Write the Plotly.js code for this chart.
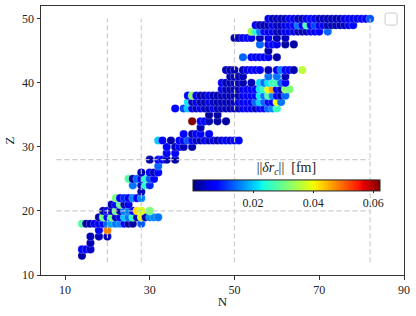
<!DOCTYPE html>
<html><head><meta charset="utf-8">
<script src="https://cdn.plot.ly/plotly-3.0.1.min.js"></script>
<style>html,body{margin:0;padding:0;background:#fff}#plot{width:416px;height:316px}</style>
</head><body><div id="plot"></div>
<script>
// ---- data: one entry per nucleus (neutron number N, proton number Z, |delta r_c| in fm)
const N = [
 14,
 14,15,16,
 16,
 16,18,20,
 18,20,
 14,15,16,17,18,19,20,21,22,23,24,25,26,28,
 18,19,20,21,22,23,24,25,26,27,28,29,30,31,32,
 19,20,21,22,23,24,25,26,27,28,30,
 21,22,23,24,25,
 22,23,24,25,26,27,28,
 28,
 26,28,29,30,
 25,26,27,28,29,30,31,
 28,30,31,32,
 32,
 30,32,33,34,36,
 34,36,
 34,36,37,38,40,
 32,33,35,37,38,39,40,41,42,43,44,45,46,47,48,49,50,51,
 38,40,41,42,44,
 42,
 40,42,43,44,46,48,
 44,46,
 36,38,39,40,41,42,43,44,45,46,47,48,49,50,51,52,53,54,55,56,57,58,59,60,
 39,40,41,42,43,44,45,46,47,48,49,50,51,52,53,54,55,56,57,58,59,60,61,
 39,40,41,42,43,44,45,46,47,48,49,50,51,52,53,54,55,56,57,58,59,60,61,62,
 47,48,49,50,51,52,53,54,55,56,57,58,59,60,61,62,63,
 47,48,49,50,51,52,54,56,57,58,59,60,61,62,
 49,50,51,52,58,60,62,
 48,49,50,52,53,54,55,56,58,60,61,62,63,64,66,
 52,54,55,56,57,58,60,
 58,
 56,58,59,60,62,64,
 50,51,52,53,54,56,58,60,62,
 54,55,56,57,58,59,60,61,62,63,64,65,66,67,68,69,70,72,
 55,56,57,58,59,60,61,62,63,64,65,66,67,68,69,70,71,72,73,74,75,76,77,78,
 58,59,60,61,62,63,64,65,66,67,68,69,70,71,72,73,74,75,76,77,78,79,80,81,82
];
const Z = [
 13,
 14,14,14,
 15,
 16,16,16,
 17,17,
 18,18,18,18,18,18,18,18,18,18,18,18,18,18,
 19,19,19,19,19,19,19,19,19,19,19,19,19,19,19,
 20,20,20,20,20,20,20,20,20,20,20,
 21,21,21,21,21,
 22,22,22,22,22,22,22,
 23,
 24,24,24,24,
 25,25,25,25,25,25,25,
 26,26,26,26,
 27,
 28,28,28,28,28,
 29,29,
 30,30,30,30,30,
 31,31,31,31,31,31,31,31,31,31,31,31,31,31,31,31,31,31,
 32,32,32,32,32,
 33,
 34,34,34,34,34,34,
 35,35,
 36,36,36,36,36,36,36,36,36,36,36,36,36,36,36,36,36,36,36,36,36,36,36,36,
 37,37,37,37,37,37,37,37,37,37,37,37,37,37,37,37,37,37,37,37,37,37,37,
 38,38,38,38,38,38,38,38,38,38,38,38,38,38,38,38,38,38,38,38,38,38,38,38,
 39,39,39,39,39,39,39,39,39,39,39,39,39,39,39,39,39,
 40,40,40,40,40,40,40,40,40,40,40,40,40,40,
 41,41,41,41,41,41,41,
 42,42,42,42,42,42,42,42,42,42,42,42,42,42,42,
 44,44,44,44,44,44,44,
 45,
 46,46,46,46,46,46,
 47,47,47,47,47,47,47,47,47,
 48,48,48,48,48,48,48,48,48,48,48,48,48,48,48,48,48,48,
 49,49,49,49,49,49,49,49,49,49,49,49,49,49,49,49,49,49,49,49,49,49,49,49,
 50,50,50,50,50,50,50,50,50,50,50,50,50,50,50,50,50,50,50,50,50,50,50,50,50
];
const dr = [
 0.002,
 0.008,0.008,0.004,
 0.003,
 0.003,0.003,0.003,
 0.007,0.048,
 0.028,0.002,0.003,0.006,0.006,0.008,0.014,0.018,0.015,0.016,0.008,0.002,0.002,0.013,
 0.002,0.030,0.007,0.030,0.003,0.006,0.020,0.015,0.025,0.003,0.039,0.002,0.016,0.016,0.015,
 0.002,0.006,0.003,0.030,0.002,0.015,0.016,0.006,0.042,0.038,0.031,
 0.003,0.007,0.030,0.003,0.006,
 0.031,0.007,0.010,0.007,0.016,0.007,0.016,
 0.003,
 0.015,0.003,0.025,0.010,
 0.028,0.002,0.014,0.006,0.025,0.013,0.008,
 0.003,0.007,0.003,0.008,
 0.014,
 0.002,0.008,0.008,0.003,0.002,
 0.007,0.007,
 0.007,0.003,0.007,0.003,0.003,
 0.020,0.007,0.002,0.007,0.008,0.013,0.007,0.004,0.003,0.006,0.003,0.005,0.003,0.005,0.006,0.005,0.008,0.008,
 0.008,0.003,0.007,0.007,0.007,
 0.003,
 0.062,0.008,0.007,0.003,0.002,0.002,
 0.002,0.002,
 0.008,0.012,0.020,0.006,0.003,0.006,0.003,0.003,0.006,0.003,0.003,0.003,0.003,0.003,0.003,0.006,0.006,0.006,0.003,0.007,0.008,0.014,0.016,0.026,
 0.022,0.003,0.006,0.003,0.003,0.006,0.003,0.003,0.003,0.003,0.003,0.003,0.006,0.006,0.007,0.006,0.014,0.020,0.014,0.008,0.007,0.040,0.015,
 0.008,0.032,0.006,0.003,0.003,0.006,0.003,0.003,0.003,0.003,0.003,0.003,0.003,0.006,0.006,0.007,0.007,0.022,0.015,0.028,0.016,0.007,0.003,0.014,
 0.006,0.003,0.003,0.003,0.003,0.006,0.006,0.007,0.008,0.022,0.026,0.040,0.046,0.007,0.003,0.032,0.031,
 0.007,0.003,0.003,0.003,0.003,0.003,0.003,0.021,0.015,0.022,0.026,0.027,0.014,0.008,
 0.003,0.003,0.003,0.003,0.015,0.015,0.003,
 0.003,0.003,0.003,0.003,0.006,0.007,0.007,0.007,0.003,0.007,0.015,0.007,0.007,0.003,0.036,
 0.014,0.007,0.007,0.006,0.007,0.006,0.002,
 0.002,
 0.014,0.007,0.007,0.006,0.002,0.002,
 0.003,0.003,0.006,0.008,0.006,0.003,0.006,0.003,0.003,
 0.034,0.025,0.016,0.007,0.006,0.006,0.003,0.003,0.006,0.006,0.006,0.003,0.003,0.003,0.006,0.006,0.007,0.014,
 0.006,0.003,0.003,0.003,0.006,0.003,0.003,0.006,0.006,0.008,0.015,0.007,0.027,0.007,0.012,0.006,0.006,0.003,0.003,0.003,0.003,0.003,0.006,0.008,
 0.006,0.003,0.003,0.003,0.003,0.006,0.006,0.003,0.003,0.006,0.008,0.006,0.003,0.003,0.003,0.003,0.003,0.003,0.006,0.006,0.006,0.006,0.007,0.008,0.013
];
const xTicks = [10, 30, 50, 70, 90];
const yTicks = [10, 20, 30, 40, 50];
const cbTicks = [0.02, 0.04, 0.06];
const magicN = [20, 28, 50, 82];
const magicZ = [20, 28];

// matplotlib "jet" colormap
function seg(pts, v){for(let i=1;i<pts.length;i++){if(v<=pts[i][0]){const a=pts[i-1],b=pts[i];return a[1]+(b[1]-a[1])*(v-a[0])/(b[0]-a[0]);}}return pts[pts.length-1][1];}
const R=[[0,0],[0.35,0],[0.66,1],[0.89,1],[1,0.5]], G=[[0,0],[0.125,0],[0.375,1],[0.64,1],[0.91,0],[1,0]], B=[[0,0.5],[0.11,1],[0.34,1],[0.65,0],[1,0]];
const jet=[];for(let i=0;i<=100;i++){const v=i/100;jet.push([v,`rgb(${Math.round(255*seg(R,v))},${Math.round(255*seg(G,v))},${Math.round(255*seg(B,v))})`]);}

const serif = "Liberation Serif, DejaVu Serif, serif";
const trace = {
  type:'scatter', mode:'markers', x:N, y:Z,
  marker:{size:8.2, color:dr, cmin:0, cmax:0.0622, colorscale:jet,
    line:{width:0.4, color:'rgba(255,255,255,0.6)'},
    colorbar:{orientation:'h', x:0.676, xanchor:'center', y:0.415, yanchor:'top',
      len:0.515, lenmode:'fraction', thickness:11, outlinewidth:1, outlinecolor:'#222',
      tickvals:cbTicks, ticktext:cbTicks.map(v=>v.toFixed(2)), ticks:'outside', ticklen:2, tickcolor:'#222',
      tickfont:{family:serif, size:12, color:'#222'},
      title:{text:'||<i>δr</i><sub><i>c</i></sub>||  [fm]', side:'top', font:{family:serif, size:14, color:'#222'}},
      xpad:0, ypad:0}
  },
  hoverinfo:'skip', showlegend:false
};
const shapes=[];
const dash={color:'rgba(200,200,200,0.9)', width:1.2, dash:'5px,3px'};
magicN.forEach(n=>shapes.push({type:'line', xref:'x', yref:'y', x0:n, x1:n, y0:12, y1:50, line:dash, layer:'above'}));
magicZ.forEach(z=>shapes.push({type:'line', xref:'x', yref:'y', x0:8, x1:82, y0:z, y1:z, line:dash, layer:'above'}));
// empty legend frame (top-right)
shapes.push({type:'path', xref:'paper', yref:'paper', layer:'above',
  path:'M 0.954 0.974 L 0.976 0.974 Q 0.981 0.974 0.981 0.967 L 0.981 0.936 Q 0.981 0.929 0.976 0.929 L 0.954 0.929 Q 0.948 0.929 0.948 0.936 L 0.948 0.967 Q 0.948 0.974 0.954 0.974 Z',
  line:{color:'#cccccc', width:1}, fillcolor:'rgba(255,255,255,0.8)'});

const axisBase = {showgrid:false, zeroline:false, showline:true, mirror:true, linecolor:'#333', linewidth:1,
  ticks:'outside', ticklen:3.5, tickcolor:'#333', tickfont:{family:serif, size:12, color:'#222'}};
const layout = {
  width:416, height:316, margin:{l:41, r:12, t:6, b:41},
  paper_bgcolor:'#fff', plot_bgcolor:'#fff',
  xaxis:Object.assign({}, axisBase, {range:[4.33, 90], tickvals:xTicks, title:{text:'N', font:{family:serif, size:13, color:'#222'}, standoff:0}}),
  yaxis:Object.assign({}, axisBase, {range:[10, 52], tickvals:yTicks, title:{text:'Z', font:{family:serif, size:13, color:'#222'}, standoff:4}}),
  shapes:shapes
};
Plotly.newPlot('plot', [trace], layout, {staticPlot:true, displayModeBar:false});
</script></body></html>
